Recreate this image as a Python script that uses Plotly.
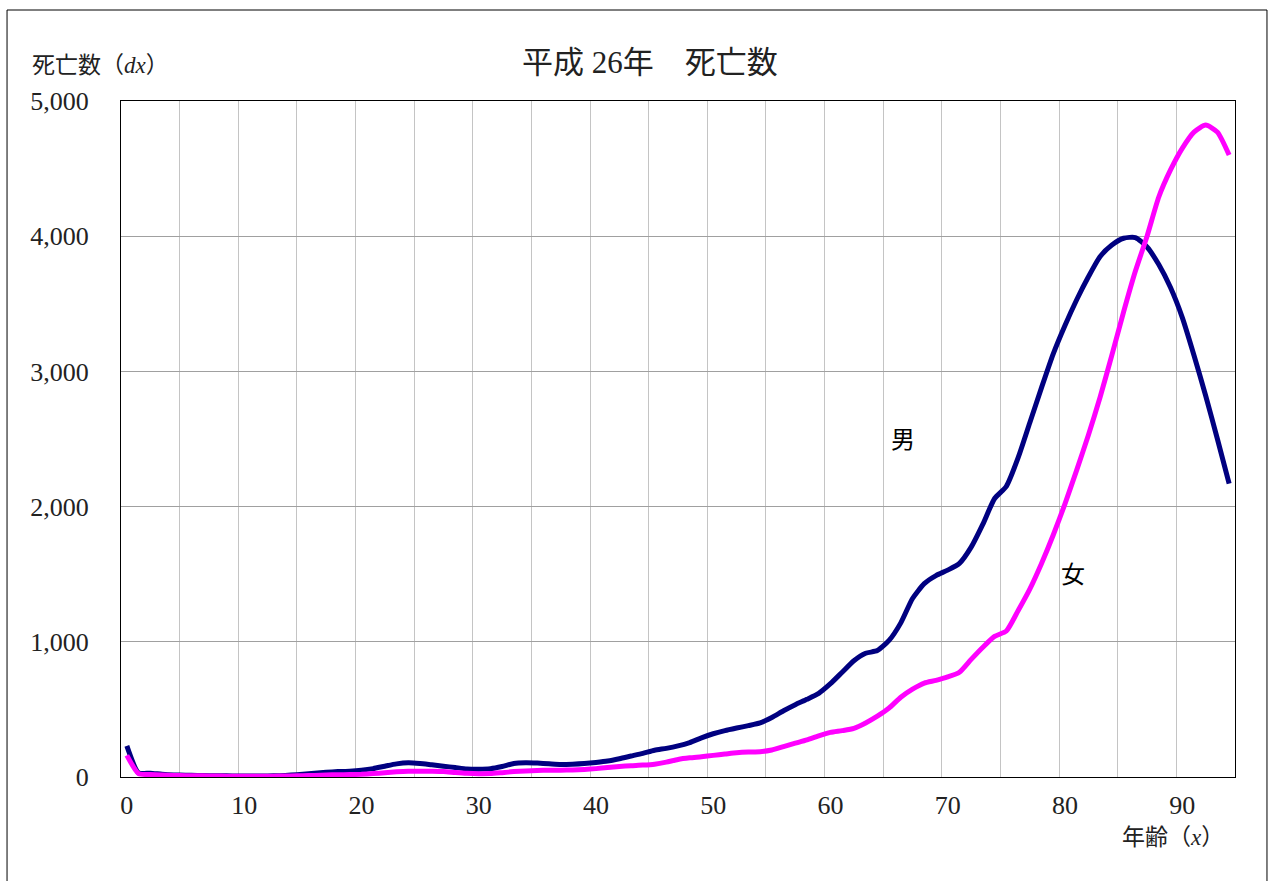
import plotly.graph_objects as go

ages = list(range(0, 95))

male = [230, 30, 28, 20, 15, 13, 12, 10, 9, 8,
        7, 7, 8, 10, 14, 20, 28, 35, 40, 43,
        50, 62, 80, 97, 105, 100, 90, 80, 70, 60,
        58, 62, 78, 100, 105, 103, 98, 93, 95, 100,
        108, 118, 135, 155, 175, 198, 212, 230, 255, 290,
        320, 343, 362, 380, 400, 440, 490, 535, 575, 619,
        690, 775, 860, 915, 935, 1010, 1140, 1320, 1430, 1490,
        1530, 1580, 1700, 1870, 2060, 2150, 2360, 2620, 2880, 3130,
        3340, 3530, 3700, 3850, 3935, 3985, 3990, 3920, 3790, 3620,
        3400, 3120, 2820, 2500, 2170]

female = [160, 25, 18, 14, 12, 10, 9, 8, 7, 6,
          6, 6, 6, 7, 8, 10, 12, 15, 17, 18,
          20, 25, 32, 38, 42, 43, 42, 40, 33, 27,
          24, 25, 32, 40, 45, 48, 50, 50, 52, 56,
          62, 70, 78, 84, 88, 95, 110, 130, 142, 150,
          160, 170, 180, 185, 187, 200, 225, 250, 275, 305,
          330, 343, 360, 400, 450, 510, 590, 650, 695, 715,
          740, 775, 870, 960, 1040, 1080, 1230, 1390, 1580, 1790,
          2020, 2270, 2530, 2810, 3120, 3440, 3740, 4000, 4290, 4490,
          4650, 4770, 4822, 4770, 4600]

x_ticks = [0, 10, 20, 30, 40, 50, 60, 70, 80, 90]
y_ticks = [0, 1000, 2000, 3000, 4000, 5000]

title_text = "平成 26年　死亡数"
ytitle_text = "死亡数（<i>dx</i>）"
xtitle_text = "年齢（<i>x</i>）"
male_label = "男"
female_label = "女"

serif = "Liberation Serif, 'Noto Sans CJK JP', serif"
sans = "'Noto Sans CJK JP', sans-serif"

fig = go.Figure()
fig.add_trace(go.Scatter(x=ages, y=male, mode="lines", name=male_label,
                         line=dict(color="#000080", width=5, shape="spline", smoothing=0.6)))
fig.add_trace(go.Scatter(x=ages, y=female, mode="lines", name=female_label,
                         line=dict(color="#FF00FF", width=5, shape="spline", smoothing=0.6)))

fig.update_layout(
    width=1273, height=881,
    margin=dict(l=121, r=38, t=101, b=104),
    paper_bgcolor="white", plot_bgcolor="white",
    showlegend=False,
    title=dict(text=title_text, x=0.5106, y=0.9296, xref="container", yref="container",
               xanchor="center", yanchor="middle",
               font=dict(family=serif, size=31, color="#222")),
    xaxis=dict(range=[-0.5, 94.5], tickmode="array", tickvals=x_ticks,
               ticktext=[str(v) for v in x_ticks],
               showgrid=False, zeroline=False,
               showline=True, linecolor="black", linewidth=1, mirror=True,
               ticks="", ticklabelstandoff=5,
               tickfont=dict(family=serif, size=26, color="#222"),
               minor=dict(tick0=4.5, dtick=5, showgrid=True, gridcolor="#c4c4c4", gridwidth=1)),
    yaxis=dict(range=[0, 5000], tickmode="array", tickvals=y_ticks,
               tickformat=",d", showgrid=True, gridcolor="#a0a0a0", gridwidth=1,
               zeroline=False, showline=True, linecolor="black", linewidth=1, mirror=True,
               ticks="", ticklabelstandoff=26,
               tickfont=dict(family=serif, size=26, color="#222")),
)

fig.add_annotation(text=ytitle_text, xref="paper", yref="paper", x=-0.0817, y=1.0518,
                   xanchor="left", yanchor="middle", showarrow=False,
                   font=dict(family=serif, size=23, color="#222"))
fig.add_annotation(text=xtitle_text, xref="paper", yref="paper", x=0.9443, y=-0.0902,
                   xanchor="center", yanchor="middle", showarrow=False,
                   font=dict(family=serif, size=23, color="#222"))
fig.add_annotation(text=male_label, x=66.2, y=2510, xref="x", yref="y", showarrow=False,
                   font=dict(family=sans, size=24, color="black"))
fig.add_annotation(text=female_label, x=80.7, y=1515, xref="x", yref="y", showarrow=False,
                   font=dict(family=sans, size=24, color="black"))

# outer chart frame
fig.add_shape(type="rect", xref="paper", yref="paper",
              x0=-0.1023, x1=1.0287, y0=-0.17, y1=1.1346,
              line=dict(color="black", width=1), layer="below")

fig.write_html("out.html", config={"displayModeBar": False},
               post_script="document.body.style.margin='0px';")
